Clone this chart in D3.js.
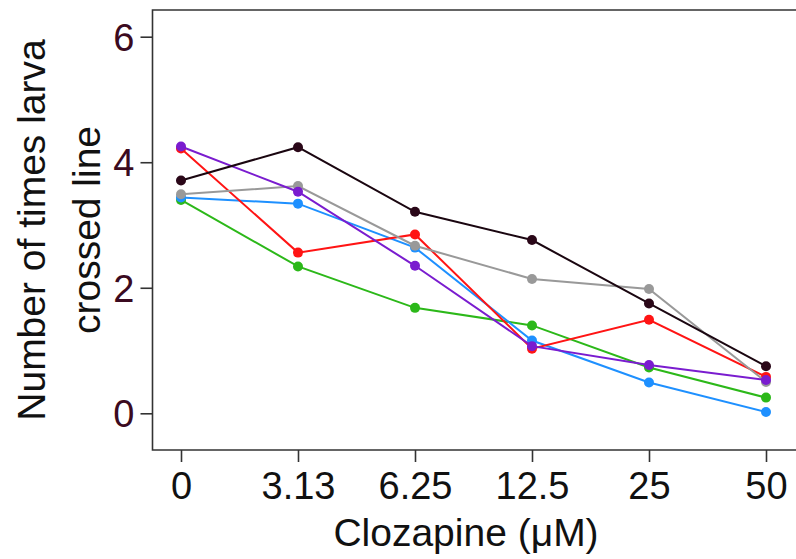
<!DOCTYPE html>
<html>
<head>
<meta charset="utf-8">
<script src="https://cdn.jsdelivr.net/npm/d3@7"></script>
<style>
  html, body { margin: 0; padding: 0; background: #fff; }
  svg { display: block; font-family: "Liberation Sans", Arial, Helvetica, sans-serif; }
</style>
</head>
<body>
<script>
// ---- data ----
const categories = ["0", "3.13", "6.25", "12.5", "25", "50"];
const yTicks = [0, 2, 4, 6];
const seriesNames = ["green", "blue", "red", "gray", "purple", "black"];
const seriesColors = ["#2cb819", "#1e90ff", "#ff1414", "#999999", "#7a1ccf", "#1a0610"];
const dotColors    = ["#2cb819", "#1e90ff", "#ff1414", "#999999", "#7a1ccf", "#2a0718"];
const greenValues  = [3.40, 2.34, 1.68, 1.40, 0.73, 0.25];
const blueValues   = [3.44, 3.34, 2.64, 1.16, 0.49, 0.02];
const redValues    = [4.22, 2.56, 2.85, 1.03, 1.49, 0.58];
const grayValues   = [3.49, 3.62, 2.67, 2.14, 1.98, 0.50];
const purpleValues = [4.25, 3.53, 2.35, 1.07, 0.77, 0.53];
const blackValues  = [3.71, 4.24, 3.21, 2.76, 1.75, 0.75];
const seriesValues = [greenValues, blueValues, redValues, grayValues, purpleValues, blackValues];
const xTitle = "Clozapine (\u03BCM)";
const yTitleLines = ["Number of times larva", "crossed line"];

// ---- layout ----
const W = 796, H = 559;
const frame = { left: 152.5, top: 10, right: 800, bottom: 450 };

const svg = d3.select("body").append("svg").attr("width", W).attr("height", H);

const x = d3.scalePoint().domain(categories).range([181, 766]);
const y = d3.scaleLinear().domain([0, 6]).range([413.3, 36.7]);

// frame (open on the right, extends past the edge)
svg.append("path")
  .attr("d", `M${frame.right},${frame.top}H${frame.left}V${frame.bottom}H${frame.right}`)
  .attr("fill", "none").attr("stroke", "#333").attr("stroke-width", 1.6);

// y axis
const yAxis = d3.axisLeft(y).tickValues(yTicks).tickSize(12).tickPadding(6).tickFormat(d3.format("d"));
const gy = svg.append("g").attr("transform", `translate(${frame.left},0)`).call(yAxis);
gy.select(".domain").remove();
gy.selectAll(".tick line").attr("stroke", "#333").attr("stroke-width", 1.6);
gy.selectAll(".tick text").attr("fill", "#3b0a20").attr("font-size", 38)
  .attr("font-family", "Liberation Sans, Arial, sans-serif").attr("dy", "0.35em");

// x axis
const xAxis = d3.axisBottom(x).tickSize(12).tickPadding(10);
const gx = svg.append("g").attr("transform", `translate(0,${frame.bottom})`).call(xAxis);
gx.select(".domain").remove();
gx.selectAll(".tick line").attr("stroke", "#333").attr("stroke-width", 1.6);
gx.selectAll(".tick text").attr("fill", "#111").attr("font-size", 38)
  .attr("font-family", "Liberation Sans, Arial, sans-serif").attr("dy", "0.71em");

// series
const line = d3.line().x((d, i) => x(categories[i])).y(d => y(d));
seriesValues.forEach((vals, si) => {
  const g = svg.append("g").attr("class", "series-" + seriesNames[si]);
  g.append("path").datum(vals).attr("d", line)
    .attr("fill", "none").attr("stroke", seriesColors[si]).attr("stroke-width", 2);
  g.selectAll("circle").data(vals).join("circle")
    .attr("cx", (d, i) => x(categories[i])).attr("cy", d => y(d))
    .attr("r", 5).attr("fill", dotColors[si]);
});

// titles
svg.append("text").attr("x", 466).attr("y", 546).attr("text-anchor", "middle")
  .attr("font-size", 39).attr("fill", "#111").text(xTitle);

const yt = svg.append("text").attr("transform", "translate(0,230) rotate(-90)")
  .attr("text-anchor", "middle").attr("font-size", 39).attr("fill", "#111");
yt.append("tspan").attr("x", 0).attr("y", 45).text(yTitleLines[0]);
yt.append("tspan").attr("x", 0).attr("y", 100).text(yTitleLines[1]);
</script>
</body>
</html>
